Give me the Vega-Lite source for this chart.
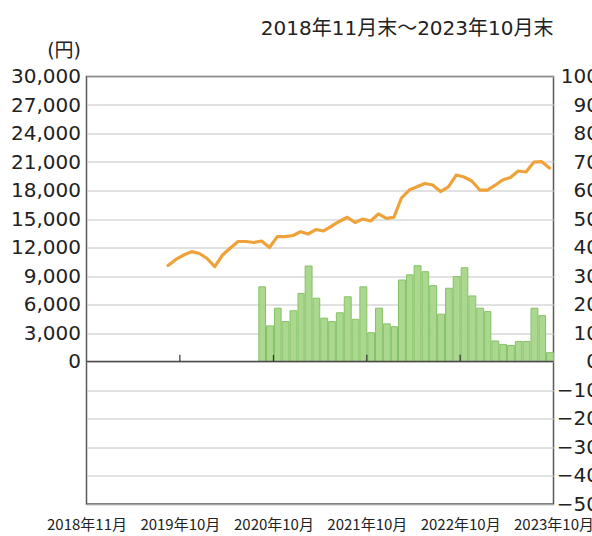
{
  "$schema": "https://vega.github.io/schema/vega-lite/v6.json",
  "width": 467,
  "height": 427.5,
  "autosize": {"type": "none"},
  "padding": {"left": 86.5, "top": 76.5, "right": 40, "bottom": 33},
  "title": {"text": "2018年11月末～2023年10月末", "anchor": "end", "frame": "group", "fontSize": 20, "fontWeight": "normal", "color": "#222222", "font": "DejaVu Sans, Noto Sans CJK JP", "offset": 3},
  "config": {
    "font": "Noto Sans CJK JP",
    "view": {"stroke": "#5a5a5a", "strokeWidth": 1.5},
    "axis": {"labelColor": "#222222", "titleColor": "#222222", "labelFont": "DejaVu Sans, Noto Sans CJK JP", "titleFont": "DejaVu Sans, Noto Sans CJK JP"}
  },
  "datasets": {
    "prices": [
      {"month": "2019-09-01", "price": 10100},
      {"month": "2019-10-01", "price": 10740},
      {"month": "2019-11-01", "price": 11210},
      {"month": "2019-12-01", "price": 11560},
      {"month": "2020-01-01", "price": 11370},
      {"month": "2020-02-01", "price": 10840},
      {"month": "2020-03-01", "price": 9980},
      {"month": "2020-04-01", "price": 11210},
      {"month": "2020-05-01", "price": 11950},
      {"month": "2020-06-01", "price": 12630},
      {"month": "2020-07-01", "price": 12630},
      {"month": "2020-08-01", "price": 12530},
      {"month": "2020-09-01", "price": 12680},
      {"month": "2020-10-01", "price": 12000},
      {"month": "2020-11-01", "price": 13140},
      {"month": "2020-12-01", "price": 13140},
      {"month": "2021-01-01", "price": 13260},
      {"month": "2021-02-01", "price": 13660},
      {"month": "2021-03-01", "price": 13420},
      {"month": "2021-04-01", "price": 13890},
      {"month": "2021-05-01", "price": 13740},
      {"month": "2021-06-01", "price": 14260},
      {"month": "2021-07-01", "price": 14740},
      {"month": "2021-08-01", "price": 15180},
      {"month": "2021-09-01", "price": 14630},
      {"month": "2021-10-01", "price": 15000},
      {"month": "2021-11-01", "price": 14790},
      {"month": "2021-12-01", "price": 15530},
      {"month": "2022-01-01", "price": 15070},
      {"month": "2022-02-01", "price": 15180},
      {"month": "2022-03-01", "price": 17210},
      {"month": "2022-04-01", "price": 18050},
      {"month": "2022-05-01", "price": 18400},
      {"month": "2022-06-01", "price": 18740},
      {"month": "2022-07-01", "price": 18580},
      {"month": "2022-08-01", "price": 17890},
      {"month": "2022-09-01", "price": 18370},
      {"month": "2022-10-01", "price": 19630},
      {"month": "2022-11-01", "price": 19420},
      {"month": "2022-12-01", "price": 19000},
      {"month": "2023-01-01", "price": 18050},
      {"month": "2023-02-01", "price": 18050},
      {"month": "2023-03-01", "price": 18530},
      {"month": "2023-04-01", "price": 19100},
      {"month": "2023-05-01", "price": 19370},
      {"month": "2023-06-01", "price": 20050},
      {"month": "2023-07-01", "price": 19950},
      {"month": "2023-08-01", "price": 21000},
      {"month": "2023-09-01", "price": 21030},
      {"month": "2023-10-01", "price": 20370}
    ],
    "flows": [
      {"month": "2020-09-01", "flow": 26.2},
      {"month": "2020-10-01", "flow": 12.5},
      {"month": "2020-11-01", "flow": 18.7},
      {"month": "2020-12-01", "flow": 14.0},
      {"month": "2021-01-01", "flow": 17.8},
      {"month": "2021-02-01", "flow": 23.9},
      {"month": "2021-03-01", "flow": 33.5},
      {"month": "2021-04-01", "flow": 22.2},
      {"month": "2021-05-01", "flow": 15.2},
      {"month": "2021-06-01", "flow": 14.0},
      {"month": "2021-07-01", "flow": 17.1},
      {"month": "2021-08-01", "flow": 22.7},
      {"month": "2021-09-01", "flow": 14.8},
      {"month": "2021-10-01", "flow": 26.2},
      {"month": "2021-11-01", "flow": 10.1},
      {"month": "2021-12-01", "flow": 18.7},
      {"month": "2022-01-01", "flow": 13.2},
      {"month": "2022-02-01", "flow": 12.2},
      {"month": "2022-03-01", "flow": 28.6},
      {"month": "2022-04-01", "flow": 30.4},
      {"month": "2022-05-01", "flow": 33.6},
      {"month": "2022-06-01", "flow": 31.5},
      {"month": "2022-07-01", "flow": 26.6},
      {"month": "2022-08-01", "flow": 16.6},
      {"month": "2022-09-01", "flow": 25.7},
      {"month": "2022-10-01", "flow": 29.8},
      {"month": "2022-11-01", "flow": 32.9},
      {"month": "2022-12-01", "flow": 23.0},
      {"month": "2023-01-01", "flow": 18.7},
      {"month": "2023-02-01", "flow": 17.5},
      {"month": "2023-03-01", "flow": 7.2},
      {"month": "2023-04-01", "flow": 6.0},
      {"month": "2023-05-01", "flow": 5.6},
      {"month": "2023-06-01", "flow": 7.0},
      {"month": "2023-07-01", "flow": 7.0},
      {"month": "2023-08-01", "flow": 18.7},
      {"month": "2023-09-01", "flow": 16.1},
      {"month": "2023-10-01", "flow": 3.1}
    ],
    "ticks": [
      {"d": "2019-11-01"},
      {"d": "2020-11-01"},
      {"d": "2021-11-01"},
      {"d": "2022-11-01"}
    ]
  },
  "layer": [
    {
      "data": {"name": "prices"},
      "mark": {"type": "line", "color": "#f0a23a", "strokeWidth": 3.2, "strokeJoin": "round", "strokeCap": "round"},
      "encoding": {
        "x": {
          "field": "month", "type": "temporal", "timeUnit": "utcyearmonth", "bandPosition": 0.5,
          "scale": {"type": "utc", "domain": [{"year": 2018, "month": 11, "date": 1, "utc": true}, {"year": 2023, "month": 11, "date": 1, "utc": true}]},
          "axis": {
            "values": [
              {"year": 2018, "month": 11, "date": 1, "utc": true},
              {"year": 2019, "month": 11, "date": 1, "utc": true},
              {"year": 2020, "month": 11, "date": 1, "utc": true},
              {"year": 2021, "month": 11, "date": 1, "utc": true},
              {"year": 2022, "month": 11, "date": 1, "utc": true},
              {"year": 2023, "month": 11, "date": 1, "utc": true}
            ],
            "labelExpr": "utcyear(datum.value) == 2018 ? '2018年11月' : utcyear(datum.value) + '年10月'",
            "title": null, "ticks": false, "domain": false, "grid": false,
            "labelFont": "Noto Sans CJK JP",
            "labelFontSize": 15, "labelPadding": 13, "labelOverlap": false, "labelFlush": false, "labelBound": false, "labelAlign": "center"
          }
        },
        "y": {
          "field": "price", "type": "quantitative",
          "scale": {"domain": [-15000, 30000], "nice": false, "zero": false},
          "axis": {
            "orient": "left",
            "values": [-15000, -12000, -9000, -6000, -3000, 0, 3000, 6000, 9000, 12000, 15000, 18000, 21000, 24000, 27000, 30000],
            "labelExpr": "datum.value >= 0 ? format(datum.value, ',') : ''",
            "grid": true, "gridColor": "#c4c4c4", "gridWidth": 1,
            "ticks": false, "domain": false, "labelFontSize": 20, "labelPadding": 6,
            "title": "(円)", "titleAngle": 0, "titleAlign": "right", "titleBaseline": "middle",
            "titleX": -6, "titleY": -26, "titleFontSize": 19, "titleFontWeight": "normal"
          }
        }
      }
    },
    {
      "data": {"name": "flows"},
      "mark": {"type": "bar", "color": "#abd88e", "stroke": "#84c265", "strokeWidth": 1, "timeUnitBandSize": 0.68, "timeUnitBandPosition": 0.5},
      "encoding": {
        "x": {"field": "month", "type": "temporal", "timeUnit": "utcyearmonth"},
        "y": {
          "field": "flow", "type": "quantitative",
          "scale": {"domain": [-50, 100], "nice": false, "zero": false},
          "axis": {
            "orient": "right",
            "values": [-50, -40, -30, -20, -10, 0, 10, 20, 30, 40, 50, 60, 70, 80, 90, 100],
            "grid": false, "ticks": false, "domain": false, "labelFontSize": 20,
            "labelAlign": "right", "labelPadding": 45, "labelBound": false, "labelOverlap": false,
            "title": "(億円)", "titleAngle": 0, "titleAlign": "left", "titleBaseline": "middle",
            "titleX": 37, "titleY": -26, "titleFontSize": 19, "titleFontWeight": "normal"
          }
        },
        "y2": {"datum": 0}
      }
    },
    {
      "data": {"values": [{"v": 0}]},
      "mark": {"type": "rule", "color": "#4a4a4a", "strokeWidth": 1.5},
      "encoding": {
        "y": {"field": "v", "type": "quantitative", "scale": {"domain": [-15000, 30000], "nice": false, "zero": false}, "axis": null}
      }
    },
    {
      "data": {"name": "ticks"},
      "mark": {"type": "rule", "color": "#333333", "strokeWidth": 1.2},
      "encoding": {
        "x": {"field": "d", "type": "temporal"},
        "y": {"datum": 0, "type": "quantitative", "scale": {"domain": [-15000, 30000], "nice": false, "zero": false}, "axis": null},
        "y2": {"datum": 700}
      }
    }
  ],
  "resolve": {"scale": {"y": "independent"}}
}
